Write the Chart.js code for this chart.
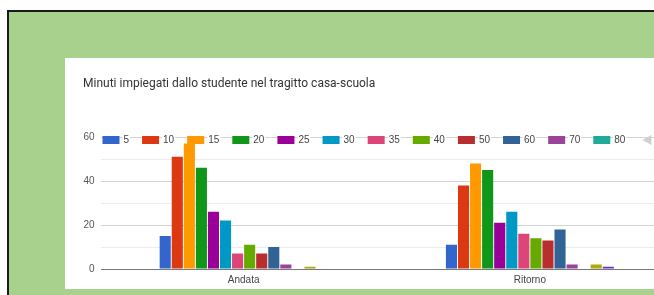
<!DOCTYPE html>
<html>
  <head>
    <title>Minuti casa-scuola</title>
    <script src="https://cdn.jsdelivr.net/npm/chart.js"></script>
    <style>
      body {
        margin: 0;
        width: 654px;
        height: 295px;
        overflow: hidden;
        position: relative;
        background: #fff;
      }
      #frame {
        position: absolute;
        left: 7px;
        top: 10px;
        width: 700px;
        height: 300px;
        background: #a9d18e;
        border-top: 2px solid #1a1a1a;
        border-left: 2px solid #1a1a1a;
      }
      #card {
        position: absolute;
        left: 65px;
        top: 58px;
        width: 620px;
        height: 231px;
        background: #fff;
      }
    </style>
  </head>
  <body>
    <div id="frame"></div>
    <div id="card"><canvas id="minutiChart"></canvas></div>
    <script>
      const categories = ["Andata", "Ritorno"];
      const seriesLabels = ["5", "10", "15", "20", "25", "30", "35", "40", "50", "60", "70", "80", "90", "120"];
      const andata = [15, 51, 57, 46, 26, 22, 7, 11, 7, 10, 2, 0, 1, 0];
      const ritorno = [11, 38, 48, 45, 21, 26, 16, 14, 13, 18, 2, 0, 2, 1];
      const colors = [
        "#3366cc", "#dc3912", "#ff9900", "#109618", "#990099", "#0099c6",
        "#dd4477", "#66aa00", "#b82e2e", "#316395", "#994499", "#22aa99",
        "#aaaa11", "#6633cc",
      ];
      const yTicks = [0, 20, 40, 60];
      const legendPageSize = 12; // only the first page of the legend is visible

      const datasets = seriesLabels.map((label, i) => ({
        label: label,
        data: [andata[i], ritorno[i]],
        backgroundColor: colors[i],
        borderWidth: 0,
        categoryPercentage: 0.59,
        barPercentage: 0.92,
      }));

      // Google-style legend sitting on the top gridline
      const inlineLegend = {
        id: "inlineLegend",
        afterDraw(chart) {
          const ctx = chart.ctx;
          const area = chart.chartArea;
          let x = area.left + 2;
          const y = area.top + 3;
          let textEnd = x;
          ctx.save();
          ctx.font = "10px 'Liberation Sans', Arial, sans-serif";
          ctx.textBaseline = "middle";
          chart.data.datasets.slice(0, legendPageSize).forEach((ds) => {
            ctx.fillStyle = ds.backgroundColor;
            ctx.fillRect(x, y - 4, 17, 8);
            const tx = x + 21;
            const w = ctx.measureText(ds.label).width;
            ctx.fillStyle = "#fff";
            ctx.fillRect(tx - 1, y - 6, w + 2, 12);
            ctx.fillStyle = "#444";
            ctx.fillText(ds.label, tx, y);
            textEnd = tx + w;
            x = textEnd + 13;
          });
          // pager arrow
          ctx.fillStyle = "#d0d0d0";
          ctx.beginPath();
          ctx.moveTo(textEnd + 17, y);
          ctx.lineTo(textEnd + 26, y - 5);
          ctx.lineTo(textEnd + 26, y + 5);
          ctx.closePath();
          ctx.fill();
          ctx.restore();
        },
      };

      const ctx = document.getElementById("minutiChart").getContext("2d");

      new Chart(ctx, {
        type: "bar",
        data: {
          labels: categories,
          datasets: datasets,
        },
        options: {
          responsive: true,
          maintainAspectRatio: false,
          animation: false,
          layout: {
            padding: {
              top: 19,
              left: 18,
              right: 12,
              bottom: 0,
            },
          },
          scales: {
            x: {
              grid: { display: false, drawTicks: false },
              border: { display: false },
              ticks: {
                color: "#444",
                padding: 5,
                font: { family: "'Liberation Sans', Arial, sans-serif", size: 10 },
              },
              afterFit: (scale) => {
                scale.height = 20;
              },
            },
            y: {
              min: 0,
              max: 60,
              border: { display: false },
              grid: {
                drawTicks: false,
                color: (c) =>
                  c.tick.value === 0
                    ? "#777"
                    : yTicks.includes(c.tick.value)
                    ? "#d4d4d4"
                    : "#ececec",
              },
              ticks: {
                stepSize: 10,
                padding: 6,
                color: "#555",
                font: { family: "'Liberation Sans', Arial, sans-serif", size: 10 },
                callback: (v) => (yTicks.includes(v) ? v : ""),
              },
              afterFit: (scale) => {
                scale.width = 17.5;
              },
            },
          },
          plugins: {
            legend: { display: false },
            tooltip: { enabled: false },
            title: {
              display: true,
              text: "Minuti impiegati dallo studente nel tragitto casa-scuola",
              align: "start",
              color: "#333",
              font: { family: "Roboto", size: 12, weight: "normal" },
              padding: { top: 0, bottom: 45.6 },
            },
          },
        },
        plugins: [inlineLegend],
      });
    </script>
  </body>
</html>
